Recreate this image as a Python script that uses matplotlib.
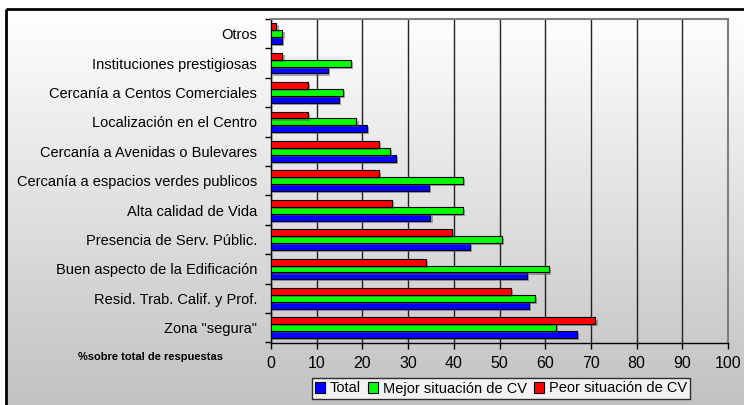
import matplotlib
matplotlib.use("Agg")
import matplotlib.pyplot as plt
import matplotlib.patheffects as pe
import numpy as np
from matplotlib.patches import Patch

# datos (de abajo hacia arriba)
categorias = [
    'Zona "segura"',
    'Resid. Trab. Calif. y Prof.',
    'Buen aspecto de la Edificación',
    'Presencia de Serv. Públic.',
    'Alta calidad de Vida',
    'Cercanía a espacios verdes publicos',
    'Cercanía a Avenidas o Bulevares',
    'Localización en el Centro',
    'Cercanía a Centos Comerciales',
    'Instituciones prestigiosas',
    'Otros',
]
total = [67.0, 56.4, 56.0, 43.5, 34.9, 34.6, 27.3, 21.0, 14.9, 12.5, 2.4]
mejor = [62.3, 57.8, 60.9, 50.6, 42.1, 42.1, 26.1, 18.7, 15.8, 17.4, 2.5]
peor = [71.0, 52.5, 34.0, 39.5, 26.4, 23.7, 23.7, 8.0, 8.0, 2.5, 1.2]
series_nombres = ['Total', 'Mejor situación de CV', 'Peor situación de CV']
series_colores = ['#0000FF', '#00FF00', '#FF0000']
x_ticks = np.arange(0, 101, 10)

W, H = 744, 405
fig = plt.figure(figsize=(W / 100, H / 100), dpi=100)
fig.patch.set_facecolor('white')

# fondo degradado dentro del marco exterior
bg = fig.add_axes([0, 0, 1, 1], zorder=-5)
bg.set_xlim(0, W)
bg.set_ylim(H, 0)
bg.axis('off')
grad = np.linspace(255, 194, 200).reshape(-1, 1) / 255.0
grad = np.dstack([grad, grad, grad])
bg.imshow(grad, extent=[6, W, H, 9], aspect='auto', interpolation='bilinear')
bg.plot([6, W], [9, 9], color='black', lw=2, solid_capstyle='butt')
bg.plot([6, 6], [9, H], color='black', lw=2, solid_capstyle='butt')

ax = fig.add_axes([271 / W, 1 - 342.5 / H, (728 - 271) / W, (342.5 - 19) / H])
ax.patch.set_alpha(0)

y = np.arange(len(categorias))
h = 0.235
sombra = [pe.withSimplePatchShadow(offset=(1.5, -1.5), shadow_rgbFace='#555555', alpha=0.5)]
for vals, off, col in zip([total, mejor, peor], [-h, 0, h], series_colores):
    ax.barh(y + off, vals, height=h, color=col, edgecolor='black', linewidth=0.8,
            path_effects=sombra, zorder=3)

ax.set_xlim(0, 100)
ax.set_ylim(-0.5, len(categorias) - 0.5)
ax.set_xticks(x_ticks)
ax.set_xticklabels([str(v) for v in x_ticks], family='Liberation Sans', fontsize=11.5)
ax.set_yticks(y)
ax.set_yticklabels(categorias, family='Liberation Sans', fontsize=10.5)
ax.set_yticks(np.arange(-0.5, len(categorias), 1), minor=True)
ax.tick_params(axis='y', which='major', length=0, pad=10)
ax.tick_params(axis='y', which='minor', length=4, width=1, direction='out')
ax.tick_params(axis='x', length=4, width=1, direction='out', pad=6)

ax.grid(axis='x', color='#222222', linewidth=1.0, zorder=1)
ax.set_axisbelow(True)
for s in ['left', 'bottom']:
    ax.spines[s].set_color('black')
    ax.spines[s].set_linewidth(1.0)
for s in ['top', 'right']:
    ax.spines[s].set_color('#808080')
    ax.spines[s].set_linewidth(1.5)

fig.text(78 / W, 1 - 357 / H, '%sobre total de respuestas', family='Liberation Sans',
         fontsize=8, weight='bold', va='center', ha='left')

handles = [Patch(facecolor=c, edgecolor='black', linewidth=0.8) for c in series_colores]
leg = fig.legend(handles, series_nombres, loc='center', bbox_to_anchor=(501 / W, 1 - 388.5 / H),
                 ncol=3, frameon=True, fancybox=False, handlelength=0.7, handleheight=0.7,
                 handletextpad=0.3, columnspacing=0.5, borderpad=0.25,
                 prop={'family': 'Liberation Sans', 'size': 10.5})
leg.get_frame().set_edgecolor('black')
leg.get_frame().set_linewidth(1.0)
leg.get_frame().set_facecolor('white')

fig.savefig('out.png', dpi=100)
